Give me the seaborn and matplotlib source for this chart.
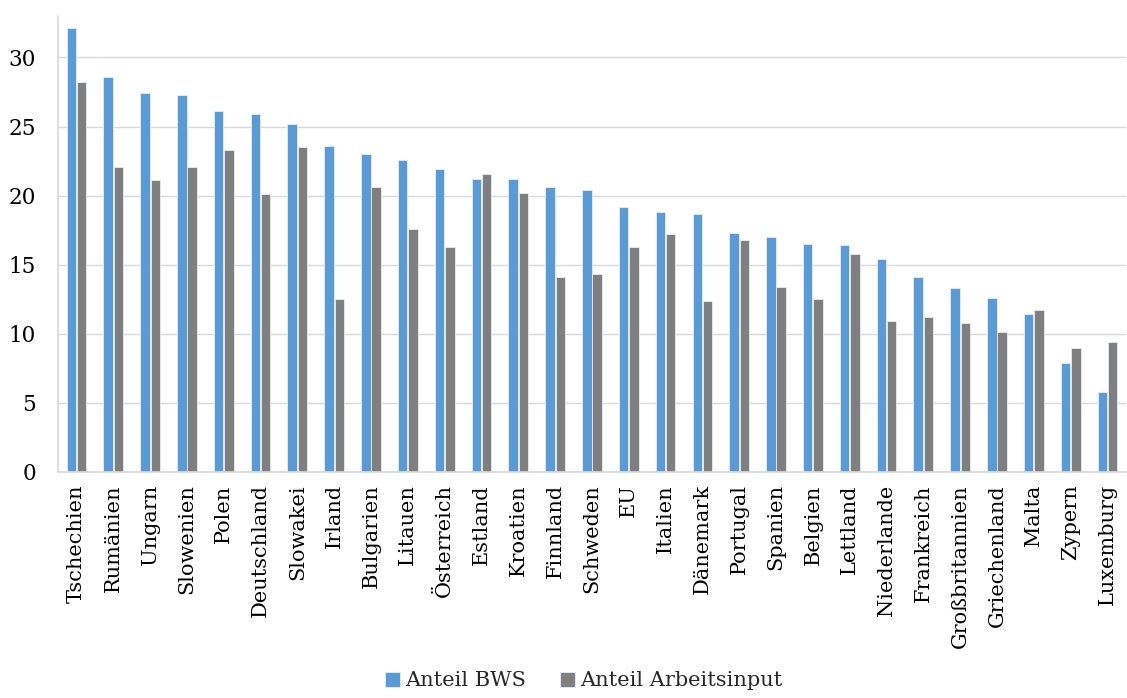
import matplotlib
matplotlib.use("Agg")
import matplotlib.pyplot as plt
import seaborn as sns
import pandas as pd

countries = ["Tschechien", "Rumänien", "Ungarn", "Slowenien", "Polen", "Deutschland",
             "Slowakei", "Irland", "Bulgarien", "Litauen", "Österreich", "Estland",
             "Kroatien", "Finnland", "Schweden", "EU", "Italien", "Dänemark", "Portugal",
             "Spanien", "Belgien", "Lettland", "Niederlande", "Frankreich",
             "Großbritannien", "Griechenland", "Malta", "Zypern", "Luxemburg"]
anteil_bws = [32.1, 28.6, 27.4, 27.3, 26.1, 25.9, 25.2, 23.6, 23.0, 22.6, 21.9, 21.2,
              21.2, 20.6, 20.4, 19.2, 18.8, 18.7, 17.3, 17.0, 16.5, 16.4, 15.4, 14.1,
              13.3, 12.6, 11.4, 7.9, 5.8]
anteil_arbeit = [28.2, 22.1, 21.1, 22.1, 23.3, 20.1, 23.5, 12.5, 20.6, 17.6, 16.3, 21.6,
                 20.2, 14.1, 14.3, 16.3, 17.2, 12.4, 16.8, 13.4, 12.5, 15.8, 10.9, 11.2,
                 10.8, 10.1, 11.7, 9.0, 9.4]
series_names = ["Anteil BWS", "Anteil Arbeitsinput"]

df = pd.DataFrame({
    "Land": countries * 2,
    "Wert": anteil_bws + anteil_arbeit,
    "Reihe": [series_names[0]] * len(countries) + [series_names[1]] * len(countries),
})

sns.set_theme(style="white")
plt.rcParams["font.family"] = ["DejaVu Serif"]

fig = plt.figure(figsize=(11.27, 6.98), dpi=100)
ax = fig.add_axes([0.0515, 0.324, 0.9475, 0.653])

palette = {series_names[0]: "#5B9BD5", series_names[1]: "#7F7F7F"}
sns.barplot(data=df, x="Land", y="Wert", hue="Reihe", palette=palette,
            width=0.56, gap=0.08, saturation=1, ax=ax,
            edgecolor="#E6EEF6", linewidth=0.6)

ax.set_ylim(0, 33)
ax.set_xlim(-0.5, len(countries) - 0.5)
ax.set_yticks(range(0, 31, 5))
ax.yaxis.grid(True, color="#D9D9D9", linewidth=1)
ax.set_axisbelow(True)
ax.set_xlabel("")
ax.set_ylabel("")
for s in ["top", "right"]:
    ax.spines[s].set_visible(False)
ax.spines["left"].set_color("#D9D9D9")
ax.spines["bottom"].set_color("#D9D9D9")
ax.tick_params(axis="y", labelsize=15.5, colors="#000000", length=0, pad=16)
ax.tick_params(axis="x", labelsize=15, colors="#000000", length=0, pad=9, rotation=90)

handles, labels = ax.get_legend_handles_labels()
ax.legend_.remove()
fig.legend(handles, labels, loc="lower center", ncol=2, frameon=False,
           fontsize=15, bbox_to_anchor=(0.518, -0.016), handlelength=0.75,
           handleheight=0.75, handletextpad=0.25, columnspacing=1.6)

fig.savefig("out.png", dpi=100)
